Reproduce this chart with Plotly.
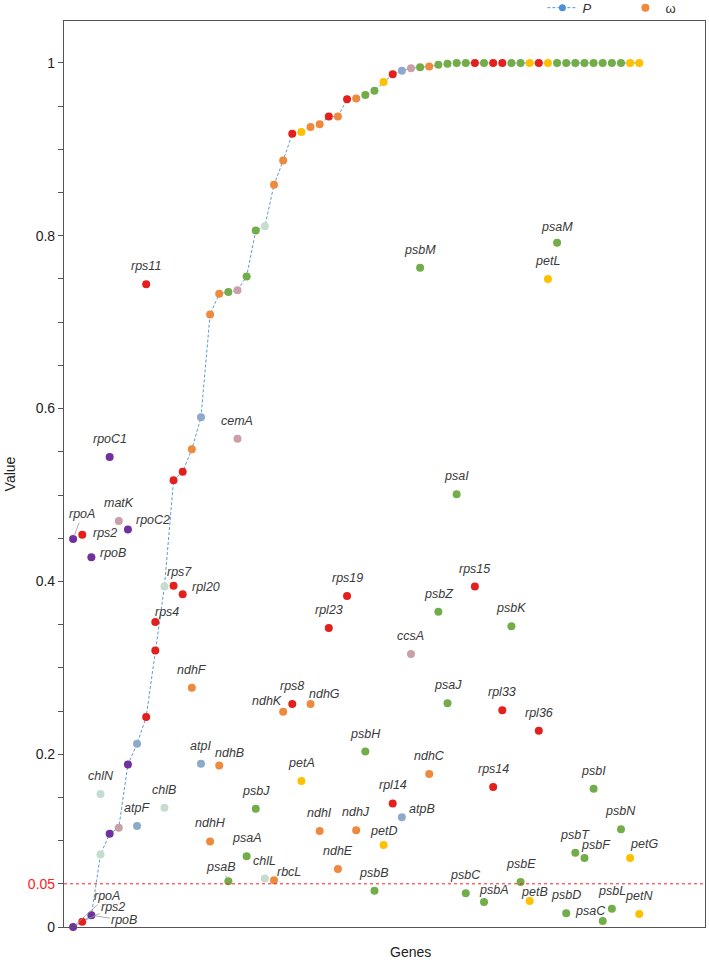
"""P and omega values of chloroplast genes."""

import plotly.graph_objects as go

genes = [
    "rpoA", "rps2", "rpoB", "chlN", "rpoC1", "matK", "rpoC2", "atpF", "rps11", "rps4",
    "chlB", "rps7", "rpl20", "ndhF", "atpI", "ndhH", "ndhB", "psaB", "cemA", "psaA",
    "psbJ", "chlL", "rbcL", "ndhK", "rps8", "petA", "ndhG", "ndhI", "rpl23", "ndhE",
    "rps19", "ndhJ", "psbH", "psbB", "petD", "rpl14", "atpB", "ccsA", "psbM", "ndhC",
    "psbZ", "psaJ", "psaI", "psbC", "rps15", "psbA", "rps14", "rpl33", "psbK", "psbE",
    "petB", "rpl36", "petL", "psaM", "psbD", "psbT", "psbF", "psbI", "psaC", "psbL",
    "psbN", "petG", "petN",
]

p_values = [
    0.0, 0.006, 0.0135, 0.084, 0.108, 0.115, 0.188, 0.212, 0.243, 0.320,
    0.394, 0.517, 0.527, 0.553, 0.590, 0.709, 0.733, 0.735, 0.737, 0.753,
    0.806, 0.811, 0.859, 0.887, 0.918, 0.920, 0.926, 0.929, 0.938, 0.938,
    0.958, 0.959, 0.963, 0.968, 0.978, 0.987, 0.991, 0.994, 0.995, 0.996,
    0.998, 0.999, 1.0, 1.0, 1.0, 1.0, 1.0, 1.0, 1.0, 1.0,
    1.0, 1.0, 1.0, 1.0, 1.0, 1.0, 1.0, 1.0, 1.0, 1.0,
    1.0, 1.0, 1.0,
]

omega_values = [
    0.449, 0.454, 0.428, 0.154, 0.544, 0.470, 0.460, 0.117, 0.744, 0.353,
    0.138, 0.395, 0.385, 0.277, 0.189, 0.099, 0.187, 0.053, 0.565, 0.082,
    0.137, 0.056, 0.054, 0.249, 0.258, 0.169, 0.258, 0.111, 0.346, 0.067,
    0.383, 0.112, 0.203, 0.042, 0.095, 0.143, 0.127, 0.316, 0.763, 0.177,
    0.365, 0.259, 0.501, 0.039, 0.394, 0.029, 0.162, 0.251, 0.348, 0.052,
    0.030, 0.227, 0.750, 0.792, 0.016, 0.086, 0.080, 0.160, 0.007, 0.021,
    0.113, 0.080, 0.015,
]

groups = [
    "rpo", "rib", "rpo", "chl", "rpo", "oth", "rpo", "atp", "rib", "rib",
    "chl", "rib", "rib", "ndh", "atp", "ndh", "ndh", "ps", "oth", "ps",
    "ps", "chl", "ndh", "ndh", "rib", "pet", "ndh", "ndh", "rib", "ndh",
    "rib", "ndh", "ps", "ps", "pet", "rib", "atp", "oth", "ps", "ndh",
    "ps", "ps", "ps", "ps", "rib", "ps", "rib", "rib", "ps", "ps",
    "pet", "rib", "pet", "ps", "ps", "ps", "ps", "ps", "ps", "ps",
    "ps", "pet", "pet",
]

# genes whose P label is drawn near zero
p_labelled = ["rpoA", "rps2", "rpoB"]

group_colors = {
    "rpo": "#7030a0",
    "rib": "#e3201b",
    "ndh": "#ee8a3e",
    "ps": "#72ad4a",
    "pet": "#ffc000",
    "atp": "#8eaacb",
    "chl": "#c6dccf",
    "oth": "#c9a0a8",
}

# label offsets in px (dx right, dy down), default is centred above the dot
label_offsets = {
    "rps2": (23, -2), "rpoC2": (25, -10), "rpoB": (22, -4), "rps7": (6, -14),
    "rpl20": (23, -7), "rps4": (12, -10), "ndhB": (10, -12), "ndhK": (-16, -11),
    "ndhG": (14, -10), "atpB": (20, -8), "petD": (0, -14), "rbcL": (15, -8),
    "psbF": (12, -13), "petG": (14, -14), "psbA": (10, -12), "petB": (5, -9),
    "psaC": (-12, -10), "psaM": (0, -16),
}
leader_offsets = {"rpoA": (9, -25), "psaB": (-7, -14)}
p_label_offsets = {"rpoA": (34, -31), "rps2": (31, -15), "rpoB": (33, 5)}

x = list(range(len(genes)))
colors = [group_colors[g] for g in groups]
label_font = {"family": "Liberation Sans, Arial", "size": 12.5, "color": "#3a3a3a"}
dash = "3px,2px"

fig = go.Figure()

fig.add_trace(
    go.Scatter(
        x=x,
        y=p_values,
        mode="lines+markers",
        line={"color": "#5b9bd5", "width": 1, "dash": dash},
        marker={"size": 8, "color": colors},
        cliponaxis=False,
        showlegend=False,
    )
)
fig.add_trace(
    go.Scatter(
        x=x,
        y=omega_values,
        mode="markers",
        marker={"size": 8, "color": colors},
        cliponaxis=False,
        showlegend=False,
    )
)

# legend-only entries
fig.add_trace(
    go.Scatter(
        x=[None], y=[None], mode="lines+markers", name="<i>P</i>",
        line={"color": "#5b9bd5", "width": 1, "dash": dash},
        marker={"size": 7, "color": "#4a90d9"},
    )
)
fig.add_trace(
    go.Scatter(
        x=[None], y=[None], mode="markers", name="ω",
        marker={"size": 8, "color": "#ee8a3e"},
    )
)

for i, (gene, om) in enumerate(zip(genes, omega_values)):
    if gene in leader_offsets:
        dx, dy = leader_offsets[gene]
        fig.add_annotation(
            x=i, y=om, text=f"<i>{gene}</i>", showarrow=True, ax=dx, ay=dy,
            arrowhead=0, arrowwidth=0.8, arrowcolor="#9a9a9a", standoff=3,
            font=label_font,
        )
    else:
        dx, dy = label_offsets.get(gene, (0, -18))
        fig.add_annotation(
            x=i, y=om, text=f"<i>{gene}</i>", showarrow=False,
            xshift=dx, yshift=-dy, font=label_font,
        )

for gene in p_labelled:
    i = genes.index(gene)
    dx, dy = p_label_offsets[gene]
    fig.add_annotation(
        x=i, y=p_values[i], text=f"<i>{gene}</i>", showarrow=True, ax=dx, ay=dy,
        arrowhead=0, arrowwidth=0.8, arrowcolor="#9a9a9a", standoff=3,
        font=label_font,
    )

# significance threshold
fig.add_shape(
    type="line", xref="paper", x0=0, x1=1, yref="y", y0=0.05, y1=0.05,
    line={"color": "#ff2020", "width": 1, "dash": "dot"},
)

tick_vals = [round(k * 0.05, 2) for k in range(21)]
tick_text = []
for v in tick_vals:
    if v == 0.05:
        tick_text.append('<span style="color:#ff2020">0.05</span>')
    elif v == 0:
        tick_text.append("0")
    elif v == 1:
        tick_text.append("1")
    elif round(v / 0.2, 6).is_integer():
        tick_text.append(f"{v:.1f}")
    else:
        tick_text.append("")

fig.add_annotation(
    text="Genes", xref="paper", yref="paper", x=0.54, y=-0.028, yanchor="middle",
    showarrow=False, font={"family": "Liberation Sans, Arial", "size": 14, "color": "#222"},
)

fig.update_layout(
    width=709,
    height=964,
    margin={"l": 64, "r": 4, "t": 21, "b": 37, "autoexpand": False},
    paper_bgcolor="white",
    plot_bgcolor="white",
    font={"family": "Liberation Sans, Arial", "size": 14, "color": "#222"},
    showlegend=True,
    legend={
        "orientation": "h", "xref": "container", "yref": "container",
        "x": 0.765, "xanchor": "left", "y": 0.992, "yanchor": "middle",
        "font": {"size": 13, "color": "#333"}, "itemwidth": 30,
        "entrywidth": 38, "bgcolor": "rgba(0,0,0,0)",
    },
    xaxis={
        "range": [-1, 69.2], "showticklabels": False, "ticks": "", "showgrid": False,
        "zeroline": False, "showline": True, "linecolor": "#555", "linewidth": 1.2,
        "mirror": True, "automargin": False,
    },
    yaxis={
        "range": [0, 1.0486], "tickvals": tick_vals, "ticktext": tick_text,
        "ticks": "outside", "ticklen": 5, "tickcolor": "#555", "showgrid": False,
        "zeroline": False, "showline": True, "linecolor": "#555", "linewidth": 1.2,
        "mirror": True, "tickfont": {"size": 14, "color": "#222"}, "automargin": False,
        "title": {"text": "Value", "standoff": 8, "font": {"size": 14}},
    },
)

# drop the default page margin so the figure sits at the window's corner
fig.write_html(
    "out.html",
    config={"displayModeBar": False},
    post_script="document.body.style.margin = '0';",
)
